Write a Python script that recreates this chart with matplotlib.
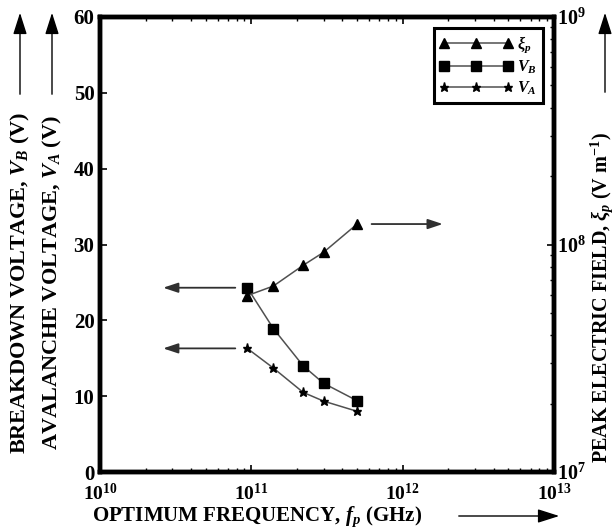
import matplotlib
matplotlib.use("Agg")
import matplotlib.pyplot as plt
from matplotlib.ticker import LogLocator, NullFormatter

plt.rcParams['font.family'] = ['Liberation Serif', 'DejaVu Serif']
plt.rcParams['mathtext.fontset'] = 'custom'
plt.rcParams['mathtext.rm'] = 'Liberation Serif:bold'
plt.rcParams['mathtext.it'] = 'Liberation Serif:italic:bold'
plt.rcParams['mathtext.bf'] = 'Liberation Serif:bold'

# data
freq = [9.4e10, 1.4e11, 2.2e11, 3.0e11, 5.0e11]       # Hz
v_b = [24.3, 18.9, 14.0, 11.7, 9.4]                      # V
v_a = [16.3, 13.7, 10.5, 9.35, 8.0]                      # V
xi_p = [5.96e7, 6.57e7, 8.1e7, 9.24e7, 1.23e8]           # V/m

x_ticks = [1e10, 1e11, 1e12, 1e13]
x_ticklabels = [r'$\mathbf{10^{10}}$', r'$\mathbf{10^{11}}$', r'$\mathbf{10^{12}}$', r'$\mathbf{10^{13}}$']
y_ticks = [0, 10, 20, 30, 40, 50, 60]
y2_ticks = [1e7, 1e8, 1e9]
y2_ticklabels = [r'$\mathbf{10^{7}}$', r'$\mathbf{10^{8}}$', r'$\mathbf{10^{9}}$']

W, H = 615, 531
fig = plt.figure(figsize=(W/100, H/100), dpi=100)
ax = fig.add_axes([100/W, 1-472/H, 454/W, 455/H])
ax2 = ax.twinx()

lc = '#505050'
ax.set_xscale('log')
ax.set_xlim(1e10, 1e13)
ax.set_ylim(0, 60)
ax2.set_yscale('log')
ax2.set_ylim(1e7, 1e9)

l2, = ax2.plot(freq, xi_p, color=lc, lw=1.1, marker='^', ms=7, mfc='k', mec='k', label=r'$\xi_p$')
l1, = ax.plot(freq, v_b, color=lc, lw=1.1, marker='s', ms=7, mfc='k', mec='k', label=r'$V_B$')
l3, = ax.plot(freq, v_a, color=lc, lw=1.1, marker='*', ms=6.5, mfc='k', mec='k', label=r'$V_A$')

# ticks
ax.set_xticks(x_ticks)
ax.set_xticklabels(x_ticklabels)
ax.xaxis.set_minor_locator(LogLocator(base=10, subs=range(2, 10)))
ax.xaxis.set_minor_formatter(NullFormatter())
ax.set_yticks(y_ticks)
ax.set_yticklabels([str(v) for v in y_ticks])
ax.tick_params(axis='both', which='both', direction='in', top=True, right=False)
ax.tick_params(which='major', length=5, width=1.2, labelsize=15)
ax.tick_params(which='minor', length=3, width=1)
ax.tick_params(axis='x', pad=8, labelsize=14)
ax.tick_params(axis='y', pad=4)
for lab in ax.get_yticklabels():
    lab.set_fontweight('bold')

ax2.set_yticks(y2_ticks)
ax2.set_yticklabels(y2_ticklabels)
ax2.yaxis.set_minor_locator(LogLocator(base=10, subs=range(2, 10)))
ax2.yaxis.set_minor_formatter(NullFormatter())
ax2.tick_params(axis='y', which='both', direction='in')
ax2.tick_params(which='major', length=5, width=1.2, labelsize=14.5, pad=2)
ax2.tick_params(which='minor', length=3, width=1)

for a in (ax, ax2):
    for s in a.spines.values():
        s.set_linewidth(3.2)

# legend
leg = ax2.legend(handles=[l2, l1, l3], loc='upper right', bbox_to_anchor=(0.975, 0.975),
                 numpoints=3, handlelength=4.6, handletextpad=0.3, fancybox=False,
                 framealpha=1, edgecolor='k', fontsize=11.5, borderpad=0.35, labelspacing=0.25,
                 borderaxespad=0)
leg.get_frame().set_linewidth(2.2)

# data arrows
ap = dict(arrowstyle='-|>,head_length=0.9,head_width=0.3', color='#303030', lw=1.3, shrinkA=0, shrinkB=0)
ax.annotate('', xy=(10**(10+63/151), v_b[0]), xytext=(10**(10+135/151), v_b[0]), arrowprops=ap)
ax.annotate('', xy=(10**(10+63/151), v_a[0]), xytext=(10**(10+135/151), v_a[0]), arrowprops=ap)
ax2.annotate('', xy=(10**(10+342/151), xi_p[-1]), xytext=(10**(10+271/151), xi_p[-1]), arrowprops=ap)

# axis labels
fig.text(92/W, 1-517/H, r'OPTIMUM FREQUENCY, $f_p$ (GHz)', fontsize=15, fontweight='bold',
         ha='left', va='center')
fig.text(20/W, 1-283/H, r'BREAKDOWN VOLTAGE, $V_B$ (V)', fontsize=16, fontweight='bold',
         rotation=90, ha='center', va='center')
fig.text(52/W, 1-283/H, r'AVALANCHE VOLTAGE, $V_A$ (V)', fontsize=16, fontweight='bold',
         rotation=90, ha='center', va='center')
fig.text(602/W, 1-298/H, r'PEAK ELECTRIC FIELD, $\xi_p$ (V m$^{-1}$)', fontsize=14.5,
         fontweight='bold', rotation=90, ha='center', va='center')

# label arrows (figure pixels)
def farrow(x0, y0, x1, y1):
    fig.patches.append(matplotlib.patches.FancyArrowPatch(
        (x0/W, 1-y0/H), (x1/W, 1-y1/H), transform=fig.transFigure, mutation_scale=12,
        arrowstyle='-|>,head_length=1.1,head_width=0.35', color='k', lw=1.0))
farrow(20, 97, 20, 10)
farrow(52, 97, 52, 10)
farrow(605, 95, 605, 10)
farrow(456, 516, 562, 516)

fig.savefig('out.png', dpi=100)
